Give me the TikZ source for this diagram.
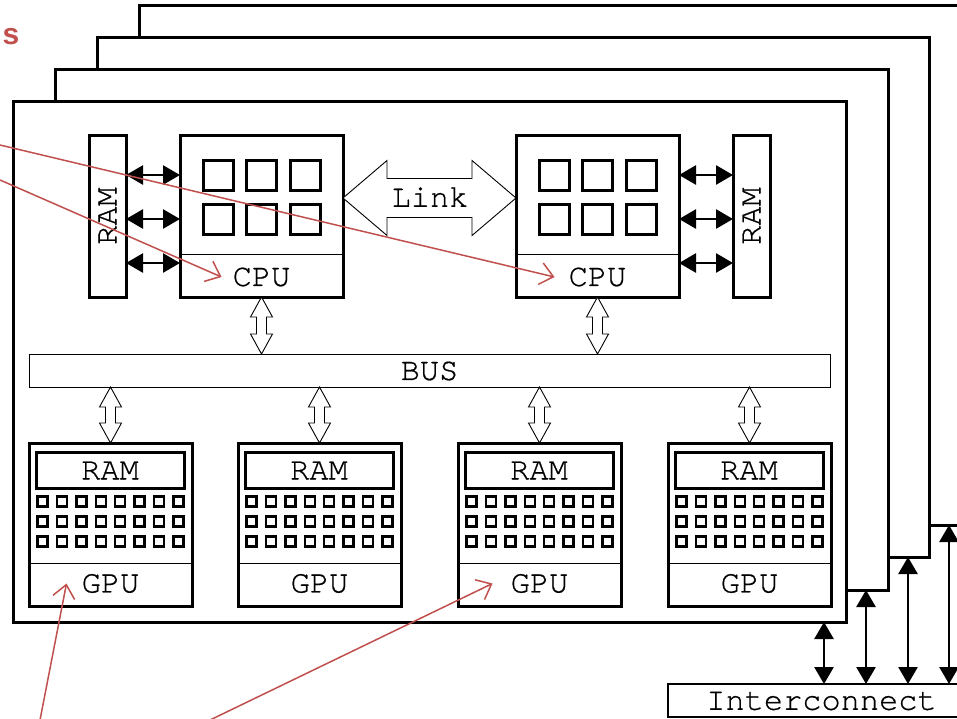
\documentclass[tikz,border=0pt]{standalone}
\usepackage{fontspec}
\newfontfamily\cour{texgyrecursor-regular.otf}[FakeBold=0.6]
\newfontfamily\redsans{Liberation Sans}
\usetikzlibrary{arrows.meta,calc}
\definecolor{annred}{RGB}{192,80,77}
\newcommand\vhollow[2]{%
  \draw[hollow] let \p1=(#1), \p2=(#2) in
    (\x1,\y1) -- (\x1+11pt,\y1-20pt) -- (\x1+5pt,\y1-20pt) -- (\x1+5pt,\y2+20pt)
    -- (\x1+11pt,\y2+20pt) -- (\x1,\y2) -- (\x1-11pt,\y2+20pt) -- (\x1-5pt,\y2+20pt)
    -- (\x1-5pt,\y1-20pt) -- (\x1-11pt,\y1-20pt) -- cycle;}
\begin{document}
\begin{tikzpicture}[x=1pt,y=-1pt,
  thickbox/.style={draw, line width=3pt, fill=white, inner sep=0pt, outer sep=0pt},
  thinbox/.style={draw, line width=1pt, fill=white, inner sep=0pt, outer sep=0pt},
  lbl/.style={font=\cour\fontsize{32}{32}\selectfont, inner sep=0pt, text=black},
  blk/.style={line width=2.6pt, {Triangle[length=17pt,width=19pt]}-{Triangle[length=17pt,width=19pt]}},
  hollow/.style={draw, line width=0.9pt, fill=white, line join=miter},
  core/.style={draw, line width=3pt, minimum size=30pt, inner sep=0pt, outer sep=0pt},
  cell/.style={draw, line width=2.4pt, minimum size=10pt, inner sep=0pt, outer sep=0pt},
  divline/.style={line width=1pt},
  redarr/.style={draw=annred, line width=1.5pt, -{Straight Barb[length=13pt,width=22pt]}},
]
\useasboundingbox (0,0) rectangle (957,718);
\clip (0,0) rectangle (957,718);

% stacked frames
\node[thickbox, minimum width=833pt, minimum height=520pt] (f4) at (555.5,265) {};
\node[thickbox, minimum width=832pt, minimum height=520pt] (f3) at (513,297) {};
\node[thickbox, minimum width=833pt, minimum height=521pt] (f2) at (471.5,329.5) {};
\node[thickbox, minimum width=833pt, minimum height=521pt] (f1) at (429.5,361.5) {};

% RAMs beside CPUs
\node[thickbox, minimum width=37pt, minimum height=162pt] (ramL) at (107.5,216) {};
\node[lbl, rotate=90] (ramLlab) at (ramL) {RAM};
\node[thickbox, minimum width=37pt, minimum height=162pt] (ramR) at (751.5,216) {};
\node[lbl, rotate=90] (ramRlab) at (ramR) {RAM};

% CPUs
\coordinate (dv) at (0,254);
\foreach \cx/\nm in {261.5/L, 597.5/R} {
  \node[thickbox, minimum width=163pt, minimum height=162pt] (cpu\nm) at (\cx,216) {};
  \draw[divline] (cpu\nm.west |- dv) -- (cpu\nm.east |- dv);
  \node[lbl] (cpu\nm lab) at (\cx,277) {CPU};
  \foreach \i in {0,1,2} \foreach \j in {0,1}
    \node[core] (core\nm\i\j) at (\cx-81.5+38+\i*43.5, 175+\j*44) {};
}

% RAM <-> CPU arrows
\coordinate (r1) at (0,175);
\coordinate (r2) at (0,219);
\coordinate (r3) at (0,263);
\foreach \r in {r1,r2,r3} {
  \draw[blk] (ramL.east |- \r) -- (cpuL.west |- \r);
  \draw[blk] (cpuR.east |- \r) -- (ramR.west |- \r);
}

% Link
\coordinate (lk) at (0,198);
\draw[hollow] let \p1=(cpuL.east |- lk), \p2=(cpuR.west |- lk) in
  (\x1,\y1) -- (\x1+44pt,\y1+37.5pt) -- (\x1+44pt,\y1+19.5pt) -- (\x2-44pt,\y1+19.5pt)
  -- (\x2-44pt,\y1+37.5pt) -- (\x2,\y1) -- (\x2-44pt,\y1-37.5pt) -- (\x2-44pt,\y1-19.5pt)
  -- (\x1+44pt,\y1-19.5pt) -- (\x1+44pt,\y1-37.5pt) -- cycle;
\node[lbl] (link) at (430,197) {Link};

% BUS
\node[thinbox, minimum width=801pt, minimum height=33pt] (bus) at (429.5,370.5) {};
\node[lbl] (buslab) at (429.5,371) {BUS};
\vhollow{cpuL.south}{cpuL.south |- bus.north}
\vhollow{cpuR.south}{cpuR.south |- bus.north}

% GPUs
\coordinate (gd) at (0,563);
\foreach \gx/\gn in {29/1, 238/2, 458/3, 668/4} {
  \node[thickbox, minimum width=163pt, minimum height=163pt] (g\gn) at (\gx+81.5,524.5) {};
  \node[thickbox, minimum width=148pt, minimum height=36pt] (gr\gn) at (\gx+81,470) {};
  \node[lbl] (gr\gn lab) at (\gx+81,470.5) {RAM};
  \foreach \i in {0,...,7} \foreach \j in {0,1,2}
    \node[cell] (c\gn\i\j) at (\gx+13.5+\i*19.4, 501.5+\j*20) {};
  \draw[divline] (g\gn.west |- gd) -- (g\gn.east |- gd);
  \node[lbl] (g\gn lab) at (\gx+81.5,583.5) {GPU};
  \coordinate (gt\gn) at (g\gn.north);
  \coordinate (bt\gn) at (bus.south -| g\gn.north);
  \vhollow{bt\gn}{gt\gn}
}

% Interconnect
\node[draw, line width=1.2pt, fill=white, inner sep=0pt, outer sep=0pt,
      minimum width=307pt, minimum height=33pt] (ic) at (821.5,700.5) {};
\node[lbl] (iclab) at (821.5,701) {Interconnect};
\coordinate (xa) at (824,0);
\coordinate (xb) at (866,0);
\coordinate (xc) at (908,0);
\coordinate (xd) at (949,0);
\draw[blk] (ic.north -| xa) -- (f1.south -| xa);
\draw[blk] (ic.north -| xb) -- (f2.south -| xb);
\draw[blk] (ic.north -| xc) -- (f3.south -| xc);
\draw[blk] (ic.north -| xd) -- (f4.south -| xd);

% red annotations
\node[font=\redsans\bfseries\fontsize{30}{30}\selectfont, text=annred,
      anchor=base east, inner sep=0pt] (sfrag) at (19.5,44) {s};
\coordinate (a1) at (0,145);
\coordinate (a2) at (0,180);
\coordinate (a3) at (40,720);
\coordinate (a4) at (210,720);
\draw[redarr] (a1) -- ([xshift=-14pt]cpuRlab.west);
\draw[redarr] (a2) -- ([xshift=-11pt]cpuLlab.west);
\draw[redarr] (a3) -- ([xshift=-15pt]g1lab.west);
\draw[redarr] (a4) -- ([xshift=-18pt]g3lab.west);
\end{tikzpicture}
\end{document}
